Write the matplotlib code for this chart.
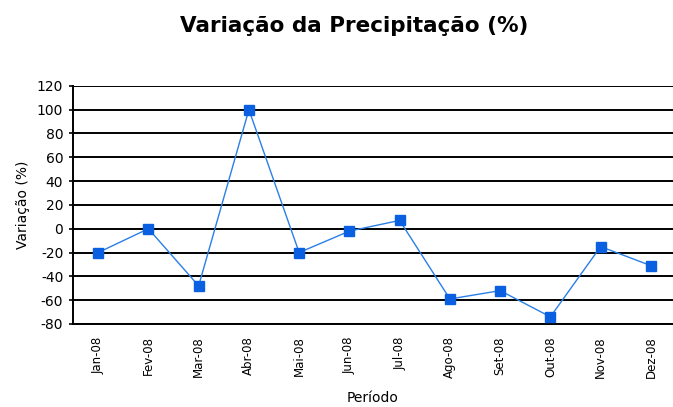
import matplotlib.pyplot as plt

meses = ['Jan-08', 'Fev-08', 'Mar-08', 'Abr-08', 'Mai-08', 'Jun-08',
         'Jul-08', 'Ago-08', 'Set-08', 'Out-08', 'Nov-08', 'Dez-08']
variacao = [-20, 0, -48, 100, -20, -2, 7, -59, -52, -74, -15, -31]
y_ticks = [-80, -60, -40, -20, 0, 20, 40, 60, 80, 100, 120]

fig = plt.figure(figsize=(6.73, 4.07), dpi=100)
ax = fig.add_axes([0.1085, 0.204, 0.8915, 0.585])

for t in y_ticks:
    ax.axhline(t, color='black', linewidth=1.4, zorder=1)

x = list(range(len(meses)))
ax.plot(x, variacao, color='#2a7fe8', linewidth=1.0, marker='s', markersize=7,
        markerfacecolor='#0a60e0', markeredgecolor='#0a60e0', zorder=3)

ax.set_xlim(-0.5, 11.44)
ax.set_ylim(-80, 120)
ax.set_yticks(y_ticks)
ax.set_yticklabels([str(t) for t in y_ticks], fontsize=10)
ax.set_xticks(x)
ax.set_xticklabels(meses, rotation=90, fontsize=8.5)
ax.tick_params(axis='x', length=0, pad=9)
ax.tick_params(axis='y', length=3, width=1.2, pad=4)

for s in ['top', 'right']:
    ax.spines[s].set_visible(False)
ax.spines['left'].set_linewidth(1.4)
ax.spines['bottom'].set_linewidth(1.4)

ax.set_ylabel('Variação (%)', fontsize=10, labelpad=5)
ax.set_xlabel('Período', fontsize=10, labelpad=9)
fig.text(0.526, 0.936, 'Variação da Precipitação (%)', ha='center', va='center',
         fontsize=15.5, fontweight='semibold')

fig.savefig('out.png', dpi=100)
